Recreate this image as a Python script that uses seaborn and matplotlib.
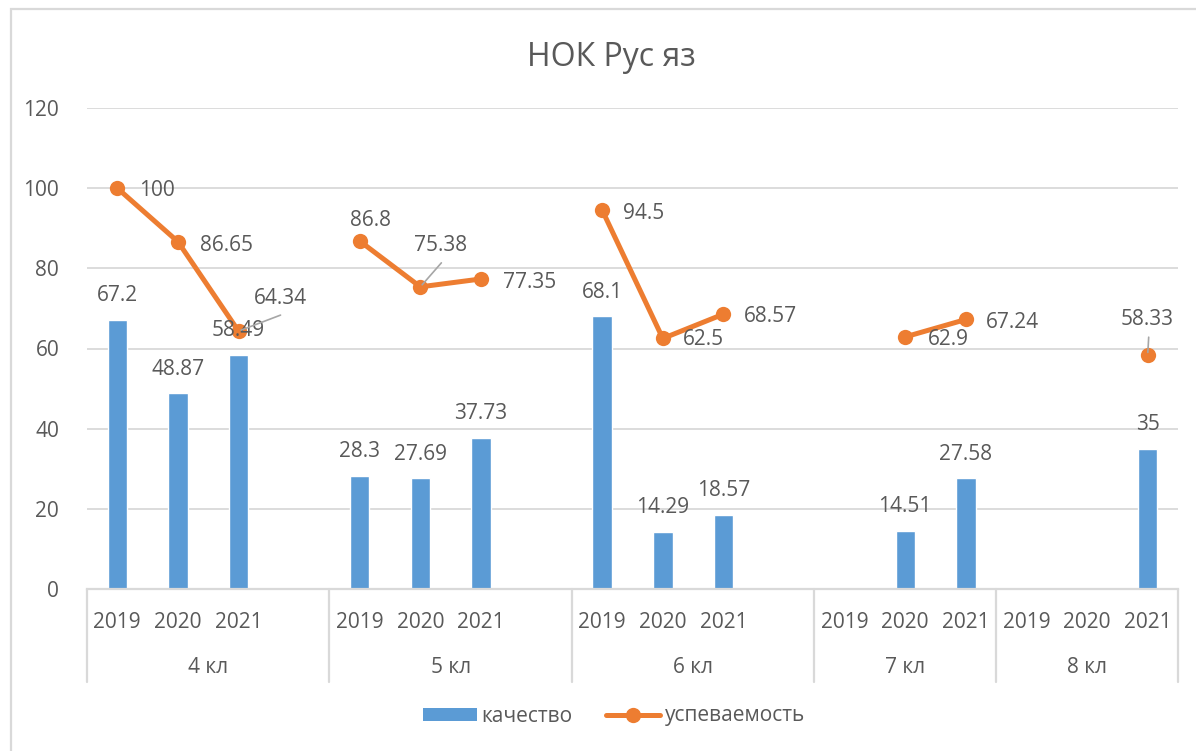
import matplotlib
matplotlib.use("Agg")
import matplotlib.pyplot as plt
import matplotlib.patches as mpatches
from matplotlib.lines import Line2D
import numpy as np
import pandas as pd
import seaborn as sns

# ---- data -------------------------------------------------------------
groups = ["4 кл", "5 кл", "6 кл", "7 кл", "8 кл"]
group_years = [
    ["2019", "2020", "2021", ""],
    ["2019", "2020", "2021", ""],
    ["2019", "2020", "2021", ""],
    ["2019", "2020", "2021"],
    ["2019", "2020", "2021"],
]
quality = [67.2, 48.87, 58.49, None,
           28.3, 27.69, 37.73, None,
           68.1, 14.29, 18.57, None,
           None, 14.51, 27.58,
           None, None, 35]
success = [100, 86.65, 64.34, None,
           86.8, 75.38, 77.35, None,
           94.5, 62.5, 68.57, None,
           None, 62.9, 67.24,
           None, None, 58.33]
series_names = ["качество", "успеваемость"]
title = "НОК Рус яз"

# ---- styling ----------------------------------------------------------
BLUE = "#5B9BD5"
ORANGE = "#ED7D31"
GRID = "#D9D9D9"
TEXT = "#595959"
LEADER = "#A6A6A6"

sns.set_theme(style="white")
plt.rcParams["font.family"] = ["Open Sans", "DejaVu Sans"]
plt.rcParams["text.color"] = TEXT

# one slot per category; slots with an empty year are spacers
slots, slot_group, slot_year = [], [], []
for g, yrs in zip(groups, group_years):
    for y in yrs:
        slots.append(f"{g}|{y or '_'}")
        slot_group.append(g)
        slot_year.append(y)
pos = np.arange(len(slots))

bars = pd.DataFrame({"slot": slots, "group": slot_group, "value": quality})
bars = bars.dropna(subset=["value"])
line = pd.DataFrame({"pos": pos, "group": slot_group, "value": success})
line = line.dropna(subset=["value"])

fig = plt.figure(figsize=(11.96, 7.51), dpi=100)
fig.patch.set_facecolor("white")
# outer chart border (runs off the right and bottom edges)
fig.add_artist(mpatches.Rectangle((11 / 1196, -0.2), 1.5, 0.2 + (751 - 9) / 751,
                                  transform=fig.transFigure, fill=False,
                                  edgecolor=GRID, lw=1.6))

ax = fig.add_axes([87 / 1196, (751 - 589) / 751, (1178 - 87) / 1196, (589 - 108) / 751])

sns.barplot(data=bars, x="slot", y="value", order=slots, color=BLUE,
            width=0.32, saturation=1, ax=ax, zorder=2)
sns.lineplot(data=line, x="pos", y="value", units="group", estimator=None,
             color=ORANGE, lw=3.6, marker="o", markersize=11,
             markeredgewidth=0, ax=ax, zorder=3, legend=False)

ax.set_xlim(-0.5, len(slots) - 0.5)
ax.set_ylim(0, 120)
ax.set_yticks(np.arange(0, 121, 20))
ax.yaxis.grid(True, color=GRID, lw=1.3)
ax.set_axisbelow(True)
for s in ("top", "right", "left"):
    ax.spines[s].set_visible(False)
ax.spines["bottom"].set_color(GRID)
ax.spines["bottom"].set_linewidth(1.6)
ax.tick_params(axis="y", length=0, pad=20, labelsize=15, labelcolor=TEXT)
ax.tick_params(axis="x", length=0, labelbottom=False)
ax.set_xlabel("")
ax.set_ylabel("")

# two-level category axis
xt = ax.get_xaxis_transform()
for p, y in zip(pos, slot_year):
    if y:
        ax.text(p, -0.069, y, transform=xt, ha="center", va="center",
                fontsize=15, color=TEXT)
start = 0
bounds = [-0.5]
for g, yrs in zip(groups, group_years):
    end = start + len(yrs)
    ax.text((start + end - 1) / 2, -0.163, g, transform=xt, ha="center",
            va="center", fontsize=15, color=TEXT)
    bounds.append(end - 0.5)
    start = end
for b in bounds:
    ax.add_line(Line2D([b, b], [0, -0.193], transform=xt, color=GRID,
                       lw=1.6, clip_on=False))

# bar value labels
PX = 0.72  # points per pixel at 100 dpi
for bar, v in zip(ax.patches, bars["value"]):
    ax.annotate(f"{v:g}", (bar.get_x() + bar.get_width() / 2, bar.get_height()),
                xytext=(0, 24 * PX), textcoords="offset points",
                ha="center", va="center", fontsize=15, color=TEXT, zorder=4)

# line value labels: (dx, dy) in pixels, alignment, leader end (px) or None
label_place = {
    0: (22, -2, "left", None),
    1: (22, -4, "left", None),
    2: (42, 33, "center", (42, 16)),
    4: (11, 21, "center", None),
    5: (20, 41, "center", (21, 24)),
    6: (22, -4, "left", None),
    8: (21, -3, "left", None),
    9: (20, -1, "left", None),
    10: (20, -2, "left", None),
    13: (23, -3, "left", None),
    14: (20, -3, "left", None),
    17: (-1, 36, "center", (1, 18)),
}
for p, v in zip(line["pos"], line["value"]):
    dx, dy, ha, leader = label_place[p]
    ax.annotate(f"{v:g}", (p, v), xytext=(dx * PX, dy * PX),
                textcoords="offset points", ha=ha, va="center",
                fontsize=15, color=TEXT, zorder=5)
    if leader:
        ex, ey = leader
        ax.annotate("", (p, v), xytext=(ex * PX, ey * PX),
                    textcoords="offset points",
                    arrowprops=dict(arrowstyle="-", color=LEADER, lw=1.2,
                                    shrinkA=0, shrinkB=2), zorder=4)

# chart title, centred on the whole chart area
fig.text(611 / 1196, 1 - 57 / 751, title, fontsize=23, color=TEXT,
         ha="center", va="center")

handles = [
    mpatches.Patch(facecolor=BLUE, edgecolor="none", label=series_names[0]),
    Line2D([], [], color=ORANGE, lw=3.6, marker="o", markersize=11,
           markeredgewidth=0, label=series_names[1]),
]
fig.legend(handles=handles, loc="center", bbox_to_anchor=(614 / 1196, 1 - 716 / 751),
           ncol=2, frameon=False, fontsize=15, handlelength=2.6,
           handleheight=0.6, handletextpad=0.2, columnspacing=1.6,
           labelcolor=TEXT)

fig.savefig("out.png", dpi=100, facecolor="white")
